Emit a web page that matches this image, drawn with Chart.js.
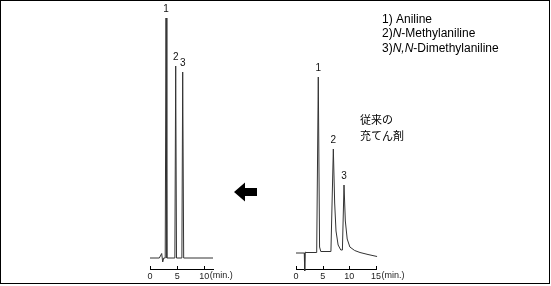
<!DOCTYPE html>
<html><head><meta charset="utf-8">
<script src="https://cdn.jsdelivr.net/npm/chart.js@4.4.1/dist/chart.umd.min.js"></script>
<style>
html,body{margin:0;padding:0;background:#fff;}
#wrap{position:relative;width:551px;height:286px;overflow:hidden;background:#fff;}
#frame{position:absolute;left:0;top:0;width:548px;height:282px;border:1px solid #000;}
canvas{position:absolute;left:0;top:0;}
</style></head><body>
<div id="wrap"><div id="frame"></div>
<canvas id="c1" width="551" height="286"></canvas>
<canvas id="c2" width="551" height="286"></canvas>
</div>
<script>
// ---- data (retention time in min, detector response in arbitrary units) ----
const leftTimes  = [0, 1.72, 2.15, 2.34, 2.53, 2.80, 2.95, 3.10, 4.58, 4.73, 4.88, 5.87, 6.02, 6.20, 11.6];
const leftSignal = [0, 0,    4.5, -4,    0,    0,    240,  0,    0,    192,  0,    0,    186,  0,    0];
const leftPeakTimes   = [2.95, 4.73, 6.02];
const leftPeakHeights = [240, 192, 186];
const leftTicks = [0, 5, 10];
const leftXMax = 11.6;

const rightTimes  = [0, 1.55, 1.63, 1.72, 1.85, 3.88, 4.18, 4.42, 4.65, 6.55, 7.00, 7.25, 7.50, 7.90, 8.40, 8.70, 9.00, 9.25, 9.60, 10.1, 11.0, 12.0, 13.5, 15.2];
const rightSignal = [0, 0,   -18,   1,    0.5,  0.5,  176,  6,    1.5,  1.5,  104,  50,   22,   8,    3,    3,    68,   32,   14,   6,    2.5,  0.5, -1.5, -3.5];
const rightPeakTimes   = [4.18, 7.00, 9.00];
const rightPeakHeights = [176, 104, 68];
const rightTicks = [0, 5, 10, 15];
const rightXMax = 15;

const peakLabels = ['1', '2', '3'];
const compoundNames = ['Aniline', 'N-Methylaniline', 'N,N-Dimethylaniline'];
const noteLines = ['従来の', '充てん剤'];
const unitLabel = '(min.)';

const LATIN = '"Liberation Sans", Arial, sans-serif';
const CJK = '"Noto Sans CJK JP", sans-serif';

function pts(t, s) { return t.map((x, i) => ({x: x, y: s[i]})); }

function decorPlugin(peakT, peakH, ticks, extra) {
  return {
    id: 'decor',
    afterDraw(chart) {
      const ctx = chart.ctx;
      const xs = chart.scales.x, ys = chart.scales.y;
      const axisY = xs.top;
      ctx.save();
      // upward tick marks
      ctx.strokeStyle = '#000';
      ctx.lineWidth = 1;
      ticks.forEach(v => {
        const px = Math.round(xs.getPixelForValue(v)) + 0.5;
        ctx.beginPath(); ctx.moveTo(px, axisY); ctx.lineTo(px, axisY - 3); ctx.stroke();
      });
      // unit after last tick label
      ctx.font = '9px ' + LATIN;
      ctx.fillStyle = '#222';
      ctx.textBaseline = 'middle';
      ctx.textAlign = 'left';
      const last = ticks[ticks.length - 1];
      const lw = ctx.measureText(String(last)).width;
      ctx.fillText(unitLabel, xs.getPixelForValue(last) + lw / 2 + 0.5, axisY + 7);
      // peak numbers
      ctx.font = '10px ' + LATIN;
      ctx.fillStyle = '#111';
      ctx.textAlign = 'center';
      peakT.forEach((t, i) => {
        ctx.fillText(peakLabels[i], xs.getPixelForValue(t), ys.getPixelForValue(peakH[i]) - 8.5);
      });
      ctx.restore();
      if (extra) extra(ctx);
    }
  };
}

function makeChart(id, times, signal, xmax, ymin, ymax, pad, ticks, plugin) {
  return new Chart(document.getElementById(id), {
    type: 'line',
    data: { datasets: [{ data: pts(times, signal), borderColor: '#333', borderWidth: 1, pointRadius: 0, tension: 0, clip: false, fill: false }] },
    options: {
      responsive: false, animation: false, devicePixelRatio: 1,
      layout: { padding: pad },
      plugins: { legend: { display: false }, tooltip: { enabled: false } },
      scales: {
        x: {
          type: 'linear', min: 0, max: xmax,
          grid: { display: false, drawTicks: false },
          border: { display: true, color: '#000', width: 1 },
          ticks: { font: { size: 9, family: LATIN }, color: '#222', padding: 2, maxRotation: 0, autoSkip: false },
          afterBuildTicks: s => { s.ticks = ticks.map(v => ({ value: v })); },
          afterFit: s => { s.height = 17; s.paddingLeft = 0; s.paddingRight = 0; }
        },
        y: { type: 'linear', display: false, min: ymin, max: ymax }
      }
    },
    plugins: [plugin]
  });
}

function drawArrow(ctx) {
  ctx.save();
  ctx.fillStyle = '#000';
  ctx.beginPath();
  ctx.moveTo(234, 192);
  ctx.lineTo(245, 182.5);
  ctx.lineTo(245, 188);
  ctx.lineTo(257, 188);
  ctx.lineTo(257, 196);
  ctx.lineTo(245, 196);
  ctx.lineTo(245, 201.5);
  ctx.closePath();
  ctx.fill();
  ctx.restore();
}

function drawTexts(ctx) {
  ctx.save();
  ctx.fillStyle = '#000';
  ctx.textBaseline = 'middle';
  ctx.textAlign = 'left';
  const ys = [19.5, 34, 48.5];
  compoundNames.forEach((name, i) => {
    let x = 382;
    const num = (i + 1) + ')';
    ctx.font = '12px ' + LATIN;
    const m = name.match(/^(N(?:,N)*)(-.*)$/);
    if (m) {
      ctx.fillText(num, x, ys[i]); x += ctx.measureText(num).width;
      ctx.font = 'italic 12px ' + LATIN;
      ctx.fillText(m[1], x, ys[i]); x += ctx.measureText(m[1]).width;
      ctx.font = '12px ' + LATIN;
      ctx.fillText(m[2], x, ys[i]);
    } else {
      ctx.fillText(num + ' ' + name, x, ys[i]);
    }
  });
  ctx.font = '11px ' + CJK;
  ctx.fillText(noteLines[0], 360, 120);
  ctx.fillText(noteLines[1], 360, 136);
  ctx.restore();
}

makeChart('c1', leftTimes, leftSignal, leftXMax, -11, 240,
  { left: 150, right: 551 - 213, top: 18, bottom: 0 }, leftTicks,
  decorPlugin(leftPeakTimes, leftPeakHeights, leftTicks, drawArrow));
makeChart('c2', rightTimes, rightSignal, rightXMax, -16, 176,
  { left: 296, right: 551 - 376, top: 77, bottom: 0 }, rightTicks,
  decorPlugin(rightPeakTimes, rightPeakHeights, rightTicks, drawTexts));
</script>
</body></html>
